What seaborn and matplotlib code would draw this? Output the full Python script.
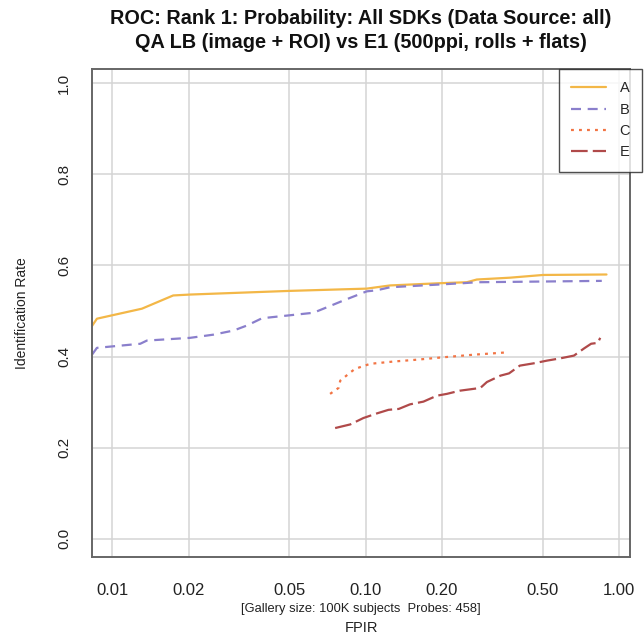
import numpy as np
import pandas as pd
import matplotlib
matplotlib.use("Agg")
import matplotlib.pyplot as plt
import seaborn as sns

# FPIR / identification rate
a_fpir = [0.00832, 0.0087, 0.0131, 0.0174, 0.0203, 0.05, 0.101, 0.1041, 0.1249,
          0.1991, 0.2508, 0.2747, 0.3712, 0.4317, 0.5019, 0.8925]
a_tpir = [0.467, 0.483, 0.505, 0.534, 0.536, 0.544, 0.549, 0.550, 0.556,
          0.561, 0.563, 0.569, 0.573, 0.576, 0.579, 0.580]

b_fpir = [0.00832, 0.0087, 0.0129, 0.0137, 0.0203, 0.0251, 0.0301, 0.0340, 0.0390,
          0.0622, 0.0703, 0.0818, 0.101, 0.1091, 0.114, 0.1249, 0.2435, 0.2747, 0.8551]
b_tpir = [0.404, 0.419, 0.428, 0.435, 0.441, 0.448, 0.457, 0.468, 0.484,
          0.496, 0.508, 0.523, 0.543, 0.545, 0.547, 0.552, 0.561, 0.563, 0.566]

c_fpir = [0.0724, 0.0782, 0.0794, 0.0870, 0.0909, 0.1043, 0.1289, 0.1592, 0.1996,
          0.2670, 0.3595]
c_tpir = [0.318, 0.331, 0.347, 0.365, 0.373, 0.384, 0.389, 0.393, 0.398,
          0.404, 0.409]

e_fpir = [0.0758, 0.0870, 0.0980, 0.1106, 0.1231, 0.1352, 0.1496, 0.1691, 0.1910,
          0.2092, 0.2354, 0.2836, 0.3010, 0.3404, 0.3681, 0.4061, 0.4600, 0.5199,
          0.5870, 0.6640, 0.7290, 0.7760, 0.8250, 0.8430]
e_tpir = [0.243, 0.251, 0.265, 0.275, 0.283, 0.285, 0.295, 0.301, 0.314,
          0.318, 0.325, 0.331, 0.344, 0.358, 0.363, 0.380, 0.385, 0.391,
          0.396, 0.402, 0.418, 0.428, 0.430, 0.441]

x_ticks = [0.01, 0.02, 0.05, 0.10, 0.20, 0.50, 1.00]
x_tick_labels = ["0.01", "0.02", "0.05", "0.10", "0.20", "0.50", "1.00"]
y_ticks = [0.0, 0.2, 0.4, 0.6, 0.8, 1.0]
y_tick_labels = ["0.0", "0.2", "0.4", "0.6", "0.8", "1.0"]

series = {"A": (a_fpir, a_tpir), "B": (b_fpir, b_tpir),
          "C": (c_fpir, c_tpir), "E": (e_fpir, e_tpir)}
df = pd.concat(
    [pd.DataFrame({"fpir": f, "tpir": t, "sdk": k}) for k, (f, t) in series.items()],
    ignore_index=True,
)

palette = {"A": "#F3B747", "B": "#8A7FCC", "C": "#F27444", "E": "#B04A4A"}
dashes = {"A": "", "B": (4.5, 3), "C": (1.3, 2.3), "E": (7.5, 2.3)}

sns.set_style("white")
plt.rcParams["font.family"] = ["Liberation Sans", "DejaVu Sans"]

fig = plt.figure(figsize=(6.44, 6.38), dpi=100)
W, H = 644, 638
ax = fig.add_axes([92 / W, 1 - 557 / H, (630 - 92) / W, (557 - 69) / H])

sns.lineplot(data=df, x="fpir", y="tpir", hue="sdk", style="sdk",
             palette=palette, dashes=dashes, estimator=None, sort=False,
             linewidth=1.6, ax=ax)

ax.set_xscale("log")
ax.set_xlim(0.00832, 1.105)
ax.set_ylim(-0.04, 1.031)
ax.set_xticks(x_ticks)
ax.set_xticklabels(x_tick_labels)
ax.set_yticks(y_ticks)
ax.set_yticklabels(y_tick_labels, rotation=90, va="center")
ax.minorticks_off()
ax.grid(True, color="#D4D4D4", linewidth=1.1)
ax.set_axisbelow(True)
for s in ax.spines.values():
    s.set_color("#666666")
    s.set_linewidth(1.4)
ax.tick_params(axis="both", length=8, width=1, color="#555555",
               labelcolor="#222222", labelsize=11)
ax.tick_params(axis="x", pad=11, labelsize=12)
ax.tick_params(axis="y", pad=7)
ax.set_xlabel("")
ax.set_ylabel("")

fig.text(361 / W, 1 - 19 / H, "ROC: Rank 1: Probability: All SDKs (Data Source: all)",
         ha="center", va="center", fontsize=14.3, fontweight="bold", color="#111111")
fig.text(361 / W, 1 - 43 / H, "QA LB (image + ROI) vs E1 (500ppi, rolls + flats)",
         ha="center", va="center", fontsize=14.3, fontweight="bold", color="#111111")
fig.text(361 / W, 1 - 609 / H, "[Gallery size: 100K subjects  Probes: 458]",
         ha="center", va="center", fontsize=9.3, color="#222222")
fig.text(361 / W, 1 - 628 / H, "FPIR", ha="center", va="center",
         fontsize=10.5, color="#222222")
fig.text(22 / W, 1 - 313 / H, "Identification Rate", ha="center", va="center",
         rotation=90, fontsize=10, color="#222222")

handles, labels = ax.get_legend_handles_labels()
ax.get_legend().remove()
leg = fig.legend(handles, labels, loc="upper left",
                 bbox_to_anchor=(559 / W, 1 - 69 / H), frameon=True,
                 fancybox=False, fontsize=10.5, handlelength=2.4,
                 handletextpad=0.9, borderpad=0.85, labelspacing=0.5,
                 borderaxespad=0)
leg.get_frame().set_edgecolor("#222222")
leg.get_frame().set_linewidth(1.0)

fig.savefig("out.png", dpi=100)
